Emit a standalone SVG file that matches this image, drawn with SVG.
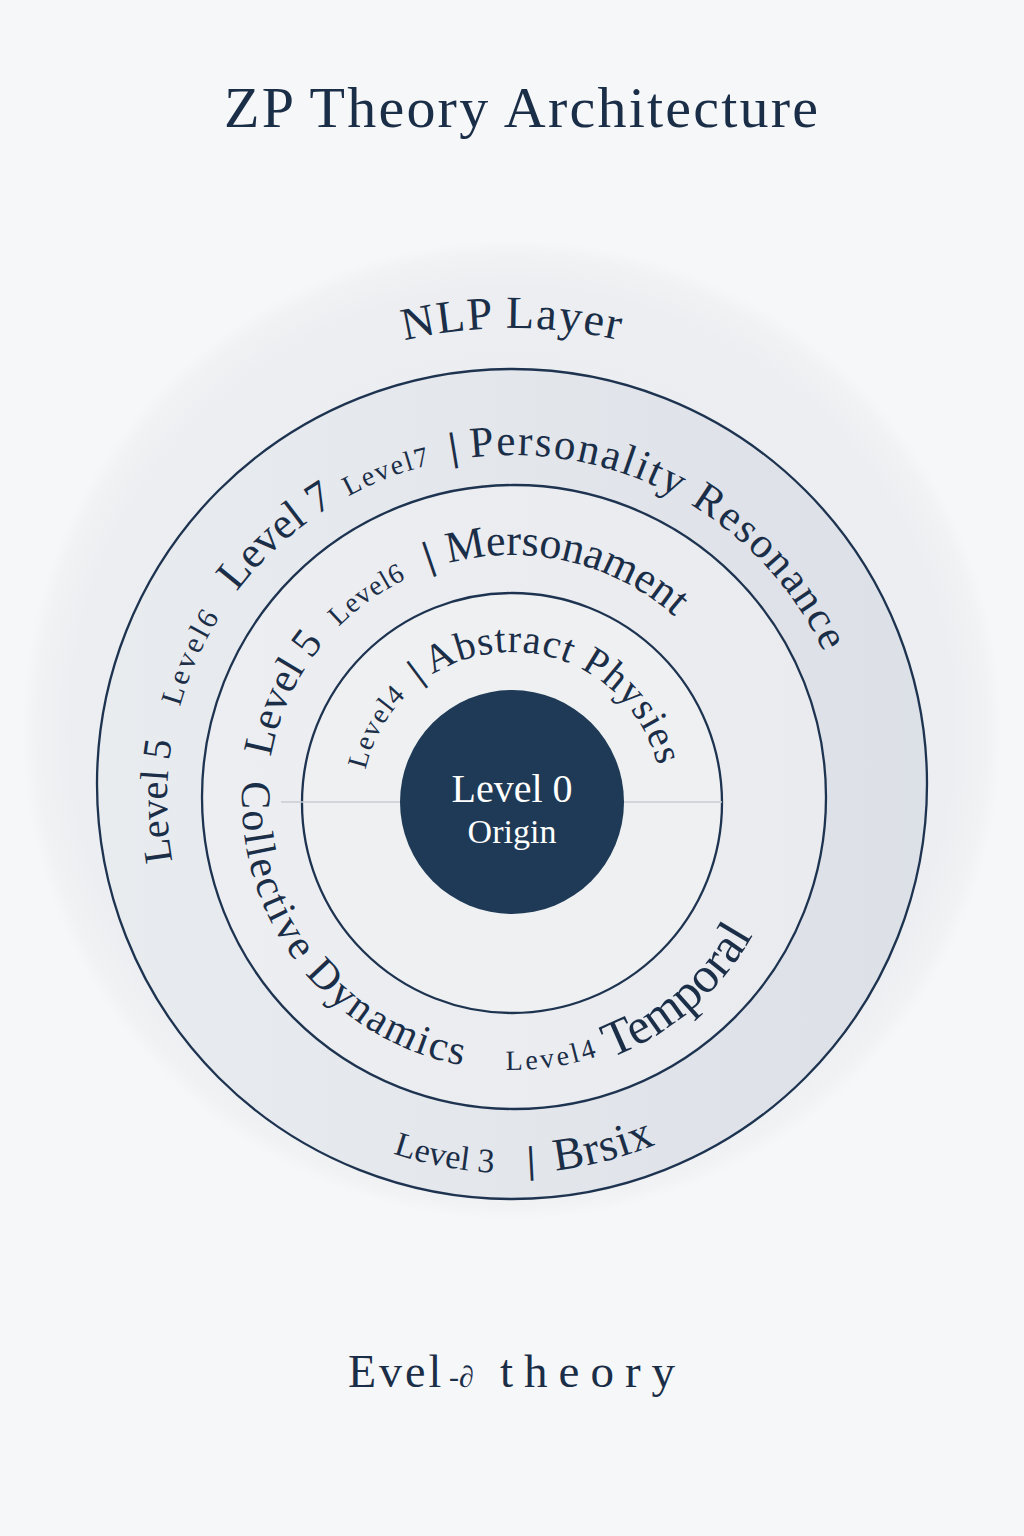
<svg xmlns="http://www.w3.org/2000/svg" xmlns:xlink="http://www.w3.org/1999/xlink" width="1024" height="1536" viewBox="0 0 1024 1536">
  <defs>
    <style>
      .lbl { font-family: "Liberation Serif", "Times New Roman", serif; fill: #1b2e48; }
      .wht { font-family: "Liberation Serif", "Times New Roman", serif; fill: #ffffff; }
      .ring { fill: none; stroke: #1d3350; stroke-width: 2.3; }
    </style>
    <radialGradient id="glow" cx="512" cy="730" r="490" gradientUnits="userSpaceOnUse">
      <stop offset="0" stop-color="#eaedf0"/>
      <stop offset="0.9" stop-color="#eceef1"/>
      <stop offset="0.97" stop-color="#f1f2f4"/>
      <stop offset="1" stop-color="#f6f7f8"/>
    </radialGradient>
    <linearGradient id="band1" x1="98" y1="0" x2="926" y2="0" gradientUnits="userSpaceOnUse">
      <stop offset="0" stop-color="#e9ecef"/>
      <stop offset="0.5" stop-color="#e3e6eb"/>
      <stop offset="1" stop-color="#dce0e7"/>
    </linearGradient>
    <linearGradient id="band2" x1="202" y1="0" x2="826" y2="0" gradientUnits="userSpaceOnUse">
      <stop offset="0" stop-color="#eceef1"/>
      <stop offset="1" stop-color="#e9ebef"/>
    </linearGradient>
    <path id="p1cw" d="M 512 1145 A 345 345 0 1 1 512 455 A 345 345 0 1 1 512 1145"/>
    <path id="p1ccw" d="M 512 427 A 373 373 0 1 0 512 1173 A 373 373 0 1 0 512 427"/>
    <path id="p2cw" d="M 512 1045 A 245 245 0 1 1 512 555 A 245 245 0 1 1 512 1045"/>
    <path id="p2ccw" d="M 512 530 A 270 270 0 1 0 512 1070 A 270 270 0 1 0 512 530"/>
    <path id="p2ccwb" d="M 512 524 A 276 276 0 1 0 512 1076 A 276 276 0 1 0 512 524"/>
    <path id="p3cw" d="M 512 952 A 150 150 0 1 1 512 652 A 150 150 0 1 1 512 952"/>
    <path id="pTop" d="M 40 800 A 472 472 0 0 1 984 800"/>
  </defs>

  <rect x="0" y="0" width="1024" height="1536" fill="#f6f7f8"/>
  <circle cx="512" cy="730" r="490" fill="url(#glow)"/>

  <text id="title" class="lbl" x="521" y="127" font-size="58" text-anchor="middle" textLength="594" lengthAdjust="spacing">ZP Theory Architecture</text>

  <g id="nlp-layer">
    <text class="lbl" font-size="46" letter-spacing="1.5"><textPath href="#pTop" xlink:href="#pTop" startOffset="50%" text-anchor="middle">NLP Layer</textPath></text>
  </g>

  <g id="ring-outer">
    <circle cx="512" cy="784" r="415" fill="url(#band1)"/>
    <circle class="ring" cx="512" cy="784" r="415"/>
  </g>
  <g id="ring-middle">
    <circle cx="514" cy="797" r="312" fill="url(#band2)"/>
    <circle class="ring" cx="514" cy="797" r="312"/>
  </g>
  <g id="ring-inner">
    <circle cx="512" cy="803" r="210" fill="#eef0f2"/>
    <circle class="ring" cx="512" cy="803" r="210"/>
  </g>

  <g id="connectors">
    <line x1="281" y1="802" x2="722" y2="802" stroke="#c9cdd3" stroke-width="1.5"/>
  </g>

  <g id="origin">
    <circle cx="512" cy="802" r="112" fill="#1e3a56"/>
    <text class="wht" x="512" y="802" font-size="40" text-anchor="middle">Level 0</text>
    <text class="wht" x="512" y="843" font-size="34" text-anchor="middle">Origin</text>
  </g>

  <g id="band1-labels">
    <text class="lbl" font-size="40"><textPath href="#p1cw" xlink:href="#p1cw" startOffset="480">Level 5</textPath></text>
    <text class="lbl" font-size="30" letter-spacing="3"><textPath href="#p1cw" xlink:href="#p1cw" startOffset="636">Level6</textPath></text>
    <text class="lbl" font-size="44"><textPath href="#p1cw" xlink:href="#p1cw" startOffset="765">Level 7</textPath></text>
    <text class="lbl" font-size="28" letter-spacing="2"><textPath href="#p1cw" xlink:href="#p1cw" startOffset="913">Level7</textPath></text>
    <text class="lbl" font-size="40" font-weight="bold"><textPath href="#p1cw" xlink:href="#p1cw" startOffset="1022">|</textPath></text>
    <text class="lbl" font-size="43" letter-spacing="2"><textPath href="#p1cw" xlink:href="#p1cw" startOffset="1042">Personality Resonance</textPath></text>
    <text class="lbl" font-size="34"><textPath href="#p1ccw" xlink:href="#p1ccw" startOffset="1050">Level 3</textPath></text>
    <text class="lbl" font-size="38" font-weight="bold"><textPath href="#p1ccw" xlink:href="#p1ccw" startOffset="1187">|</textPath></text>
    <text class="lbl" font-size="46" letter-spacing="1"><textPath href="#p1ccw" xlink:href="#p1ccw" startOffset="1215">Brsix</textPath></text>
  </g>

  <g id="band2-labels">
    <text class="lbl" font-size="42"><textPath href="#p2cw" xlink:href="#p2cw" startOffset="428">Level 5</textPath></text>
    <text class="lbl" font-size="28" letter-spacing="1"><textPath href="#p2cw" xlink:href="#p2cw" startOffset="577">Level6</textPath></text>
    <text class="lbl" font-size="40" font-weight="bold"><textPath href="#p2cw" xlink:href="#p2cw" startOffset="684">|</textPath></text>
    <text class="lbl" font-size="44"><textPath href="#p2cw" xlink:href="#p2cw" startOffset="705">Mersonament</textPath></text>
    <text class="lbl" font-size="42" letter-spacing="2.2"><textPath href="#p2ccw" xlink:href="#p2ccw" startOffset="405">Collective Dynamics</textPath></text>
    <text class="lbl" font-size="28" letter-spacing="3"><textPath href="#p2ccw" xlink:href="#p2ccw" startOffset="842">Level4</textPath></text>
    <text class="lbl" font-size="50"><textPath href="#p2ccwb" xlink:href="#p2ccwb" startOffset="968">Temporal</textPath></text>
  </g>

  <g id="band3-labels">
    <text class="lbl" font-size="28" letter-spacing="1.5"><textPath href="#p3cw" xlink:href="#p3cw" startOffset="268">Level4</textPath></text>
    <text class="lbl" font-size="36" font-weight="bold"><textPath href="#p3cw" xlink:href="#p3cw" startOffset="371">|</textPath></text>
    <text class="lbl" font-size="40" letter-spacing="1"><textPath href="#p3cw" xlink:href="#p3cw" startOffset="387">Abstract Physies</textPath></text>
  </g>

  <g id="footer">
    <text class="lbl" y="1387" font-size="46"><tspan x="348" letter-spacing="3">Evel</tspan><tspan x="449" font-size="30">-∂</tspan><tspan x="500" font-size="47" letter-spacing="11">theory</tspan></text>
  </g>
</svg>
